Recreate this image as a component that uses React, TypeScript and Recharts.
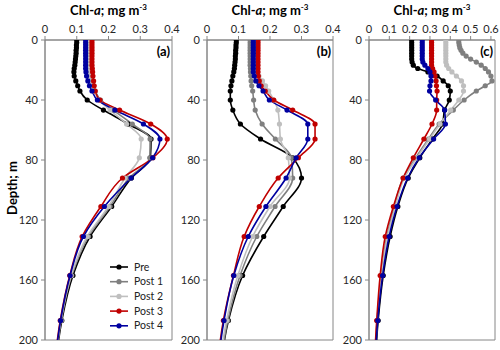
import { Legend, Line, LineChart, ReferenceArea, XAxis, YAxis } from "recharts";

// depth levels (m), shared by every profile
const depths = [0, 1.7, 3.4, 5.1, 6.9, 8.8, 10.7, 12.7, 14.7, 16.8, 19, 21.3, 24, 27.3, 30.5, 34, 40, 46.7, 56, 66, 78.5, 92, 111, 131, 157, 187, 222];

// panel (a)
const preA = [0.1, 0.1, 0.099, 0.099, 0.098, 0.098, 0.097, 0.096, 0.095, 0.094, 0.092, 0.091, 0.092, 0.097, 0.103, 0.11, 0.133, 0.184, 0.262, 0.334, 0.332, 0.272, 0.21, 0.142, 0.088, 0.053, 0.03];
const post1A = [0.14, 0.14, 0.14, 0.14, 0.14, 0.14, 0.14, 0.14, 0.14, 0.14, 0.14, 0.14, 0.142, 0.146, 0.15, 0.158, 0.175, 0.215, 0.275, 0.331, 0.33, 0.265, 0.205, 0.137, 0.084, 0.051, 0.029];
const post2A = [0.137, 0.137, 0.137, 0.137, 0.137, 0.137, 0.137, 0.137, 0.137, 0.137, 0.137, 0.138, 0.14, 0.144, 0.148, 0.155, 0.17, 0.205, 0.257, 0.303, 0.297, 0.252, 0.2, 0.133, 0.082, 0.05, 0.028];
const post3A = [0.148, 0.148, 0.148, 0.148, 0.148, 0.148, 0.148, 0.148, 0.148, 0.148, 0.149, 0.15, 0.151, 0.153, 0.155, 0.158, 0.173, 0.235, 0.333, 0.385, 0.34, 0.244, 0.176, 0.117, 0.078, 0.048, 0.027];
const post4A = [0.128, 0.128, 0.128, 0.128, 0.128, 0.128, 0.128, 0.128, 0.128, 0.128, 0.128, 0.129, 0.131, 0.135, 0.14, 0.148, 0.165, 0.22, 0.31, 0.362, 0.339, 0.271, 0.187, 0.121, 0.079, 0.049, 0.028];

// panel (b)
const preB = [0.093, 0.093, 0.092, 0.092, 0.091, 0.091, 0.09, 0.09, 0.089, 0.088, 0.087, 0.085, 0.082, 0.079, 0.076, 0.074, 0.074, 0.082, 0.106, 0.17, 0.272, 0.3, 0.242, 0.18, 0.113, 0.068, 0.04];
const post1B = [0.137, 0.137, 0.137, 0.137, 0.137, 0.137, 0.137, 0.137, 0.137, 0.137, 0.138, 0.138, 0.139, 0.14, 0.142, 0.145, 0.148, 0.153, 0.175, 0.217, 0.268, 0.272, 0.216, 0.158, 0.105, 0.066, 0.038];
const post2B = [0.15, 0.15, 0.15, 0.15, 0.15, 0.15, 0.15, 0.15, 0.15, 0.15, 0.152, 0.158, 0.165, 0.176, 0.186, 0.196, 0.212, 0.225, 0.23, 0.233, 0.258, 0.262, 0.2, 0.145, 0.098, 0.062, 0.036];
const post3B = [0.162, 0.162, 0.162, 0.162, 0.162, 0.162, 0.162, 0.162, 0.162, 0.162, 0.162, 0.162, 0.163, 0.166, 0.172, 0.185, 0.212, 0.272, 0.343, 0.343, 0.29, 0.226, 0.166, 0.118, 0.084, 0.052, 0.03];
const post4B = [0.147, 0.147, 0.147, 0.147, 0.147, 0.147, 0.147, 0.147, 0.147, 0.147, 0.147, 0.147, 0.15, 0.155, 0.165, 0.178, 0.198, 0.254, 0.32, 0.32, 0.283, 0.251, 0.187, 0.131, 0.085, 0.054, 0.031];

// panel (c)
const preC = [0.21, 0.21, 0.21, 0.21, 0.21, 0.21, 0.21, 0.21, 0.212, 0.218, 0.24, 0.29, 0.335, 0.365, 0.39, 0.4, 0.395, 0.372, 0.362, 0.312, 0.25, 0.193, 0.142, 0.104, 0.07, 0.045, 0.028];
const post1C = [0.442, 0.442, 0.444, 0.447, 0.453, 0.462, 0.478, 0.5, 0.528, 0.552, 0.572, 0.588, 0.6, 0.605, 0.572, 0.528, 0.468, 0.415, 0.345, 0.293, 0.23, 0.168, 0.125, 0.088, 0.06, 0.04, 0.025];
const post2C = [0.378, 0.378, 0.378, 0.378, 0.378, 0.378, 0.378, 0.378, 0.378, 0.382, 0.392, 0.408, 0.43, 0.455, 0.465, 0.465, 0.442, 0.402, 0.35, 0.298, 0.236, 0.174, 0.13, 0.091, 0.062, 0.041, 0.026];
const post3C = [0.308, 0.308, 0.308, 0.308, 0.308, 0.308, 0.308, 0.308, 0.308, 0.308, 0.313, 0.32, 0.325, 0.33, 0.332, 0.335, 0.333, 0.333, 0.31, 0.27, 0.218, 0.168, 0.12, 0.08, 0.055, 0.038, 0.024];
const post4C = [0.262, 0.262, 0.262, 0.262, 0.262, 0.262, 0.262, 0.262, 0.265, 0.275, 0.29, 0.3, 0.305, 0.305, 0.3, 0.298, 0.328, 0.372, 0.376, 0.318, 0.247, 0.19, 0.138, 0.099, 0.067, 0.043, 0.027];

const depthTicks = [0, 40, 80, 120, 160, 200];

const series = [
    { key: "pre", name: "Pre", color: "#000000" },
    { key: "post1", name: "Post 1", color: "#7f7f7f" },
    { key: "post2", name: "Post 2", color: "#bfbfbf" },
    { key: "post3", name: "Post 3", color: "#c00000" },
    { key: "post4", name: "Post 4", color: "#0000a0" },
];

const AXIS = "#868686";
const FONT = "Lato, 'Open Sans', sans-serif";

function buildRows(cols: number[][]) {
    return depths.map((d, i) => ({
        depth: d,
        pre: cols[0][i],
        post1: cols[1][i],
        post2: cols[2][i],
        post3: cols[3][i],
        post4: cols[4][i],
    }));
}

function LegendBox() {
    return (
        <svg width={75} height={76}>
            {series.map((s, i) => {
                const y = 8 + i * 14.7;
                return (
                    <g key={s.key}>
                        <line x1={2} x2={20} y1={y} y2={y} stroke={s.color} strokeWidth={1.6} />
                        <circle cx={11} cy={y} r={2.6} fill={s.color} />
                        <text x={26} y={y + 3.5} fontSize={10.5} fill="#222">{s.name}</text>
                    </g>
                );
            })}
        </svg>
    );
}

interface PanelProps {
    cols: number[][];
    left: number;
    plotWidth: number;
    xMax: number;
    xTicks: number[];
    tag: string;
    legend?: boolean;
}

function Panel({ cols, left, plotWidth, xMax, xTicks, tag, legend }: PanelProps) {
    const data = buildRows(cols);
    const plotLeft = left + 45;
    return (
        <>
            <div style={{ position: "absolute", left: plotLeft, width: plotWidth, top: 2, textAlign: "center", fontWeight: 700, fontSize: 13, whiteSpace: "nowrap" }}>
                Chl-<i>a</i>; mg m<sup style={{ fontSize: 8 }}>-3</sup>
            </div>
            <div style={{ position: "absolute", left: plotLeft + plotWidth - 40, width: 38, top: 43, textAlign: "right", fontWeight: 700, fontSize: 13 }}>
                {tag}
            </div>
            <div style={{ position: "absolute", left, top: 0 }}>
                <LineChart
                    layout="vertical"
                    width={45 + plotWidth + 14}
                    height={350}
                    data={data}
                    margin={{ top: 10, right: 14, bottom: 10, left: 5 }}
                >
                    <ReferenceArea x1={0} x2={xMax} y1={0} y2={200} fill="none" stroke={AXIS} strokeWidth={1} ifOverflow="visible" />
                    <XAxis
                        type="number"
                        orientation="top"
                        domain={[0, xMax]}
                        ticks={xTicks}
                        interval={0}
                        height={30}
                        tickSize={4}
                        tickMargin={3}
                        stroke={AXIS}
                        tick={{ fontSize: 11, fill: "#262626" }}
                    />
                    <YAxis
                        type="number"
                        dataKey="depth"
                        domain={[0, 200]}
                        allowDataOverflow
                        ticks={depthTicks}
                        interval={0}
                        width={40}
                        tickSize={4}
                        tickMargin={3}
                        stroke={AXIS}
                        tick={{ fontSize: 11, fill: "#262626" }}
                    />
                    {series.map(s => (
                        <Line
                            key={s.key}
                            type="monotone"
                            dataKey={s.key}
                            name={s.name}
                            stroke={s.color}
                            strokeWidth={1.6}
                            dot={{ r: 2.6, fill: s.color, stroke: s.color, strokeWidth: 0 }}
                            isAnimationActive={false}
                        />
                    ))}
                    {legend && (
                        <Legend
                            layout="vertical"
                            align="center"
                            verticalAlign="middle"
                            wrapperStyle={{ left: 108, top: 259, width: 75 }}
                            content={() => <LegendBox />}
                        />
                    )}
                </LineChart>
            </div>
        </>
    );
}

export default function App() {
    return (
        <div style={{ position: "absolute", left: 0, top: 0, width: 500, height: 350, overflow: "hidden", background: "#fff", fontFamily: FONT, color: "#000" }}>
            <Panel cols={[preA, post1A, post2A, post3A, post4A]} left={0} plotWidth={127} xMax={0.4} xTicks={[0, 0.1, 0.2, 0.3, 0.4]} tag="(a)" legend />
            <Panel cols={[preB, post1B, post2B, post3B, post4B]} left={162} plotWidth={126} xMax={0.4} xTicks={[0, 0.1, 0.2, 0.3, 0.4]} tag="(b)" />
            <Panel cols={[preC, post1C, post2C, post3C, post4C]} left={324} plotWidth={126} xMax={0.62} xTicks={[0, 0.1, 0.2, 0.3, 0.4, 0.5, 0.6]} tag="(c)" />
            <div style={{ position: "absolute", left: -28, top: 180, width: 80, textAlign: "center", transform: "rotate(-90deg)", fontWeight: 700, fontSize: 13 }}>
                Depth; m
            </div>
        </div>
    );
}
